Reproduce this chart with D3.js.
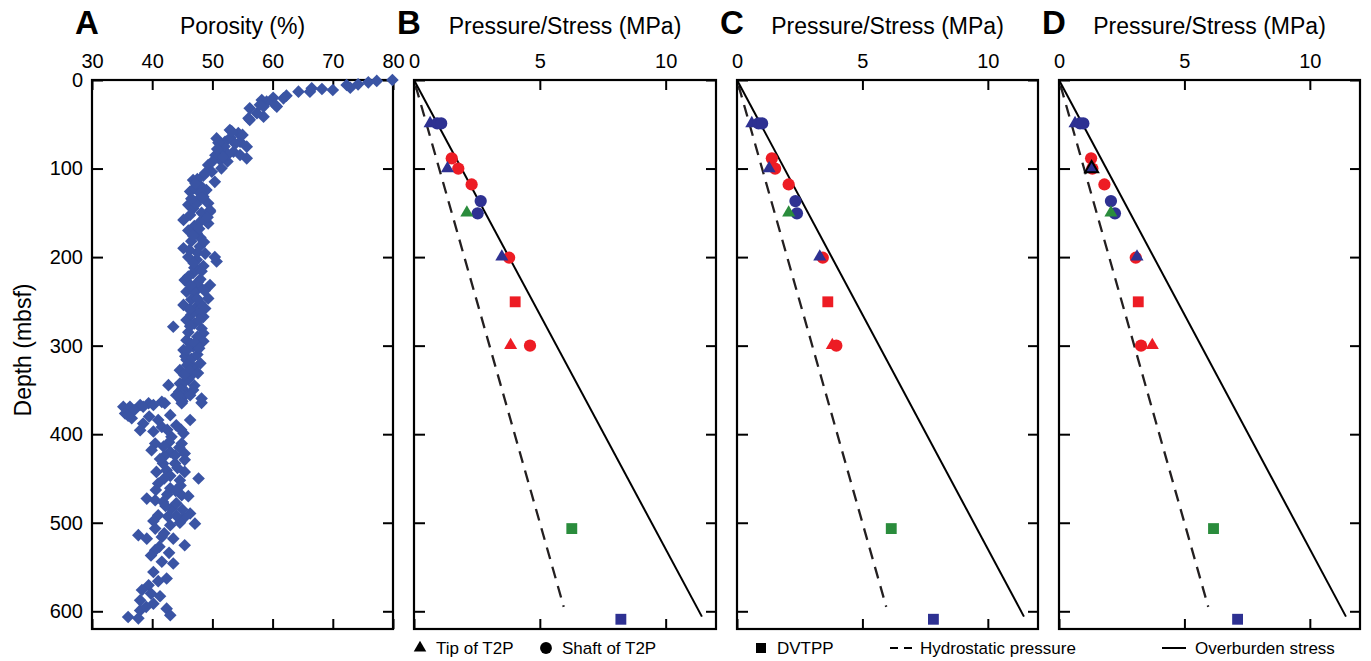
<!DOCTYPE html>
<html>
<head>
<meta charset="utf-8">
<script src="https://cdn.jsdelivr.net/npm/d3@7"></script>
<style>
  body { margin: 0; background: #fff; }
  svg text { font-family: "Liberation Sans", Arial, Helvetica, sans-serif; fill: #000; }
</style>
</head>
<body>
<svg id="chart" width="1371" height="661"></svg>
<script>
// Panel A: porosity (%) vs depth (mbsf)
const porosityData = [
  [79.9,0],[77.3,1],[75.9,2.6],[74.2,4.9],[72.9,8.7],[72.3,5.6],[70,11.3],[68.2,10.2],[66.5,9.4],[66.2,13.2],
  [64.3,13.2],[62.3,17.7],[61.8,20.7],[60.1,20],[60.4,28],[59,24.5],[58.2,22.6],[58.5,30],[58.5,41.4],[56.2,32],
  [56,43.3],[57.4,37.6],[56.2,45],[57.9,28],[60.7,30],
  [52.9,56.5],[50.7,66],[54.3,60],[54.6,69.7],[55.7,75.3],[55.7,88.5],[52.1,69.7],[53.5,81],[51.5,81],[51.3,90.4],
  [54.6,84.7],[49.3,96],[49.9,103.6],[51.5,99.8],[50.4,115],[46.8,113],[47.9,118.6],[46.3,126],[49,124.3],[48.5,131.8],
  [49.3,139.3],[46,141],[49.6,147],[52,75],[53,65],[50.5,85],[52.5,92],[50,92],[48.5,108],[47.5,112],
  [47,122],[48,128],[47.5,136],[46.8,145],[48.2,150],[47.3,140],
  [53.8,72],[52.6,84],[51,71],[55,62],[53.2,58],[51.8,87],[50.8,78],
  [46.3,152.5],[49.6,148.8],[49.3,162],[45.2,158],[47.4,173],[45.2,190],[47.9,188],[50.7,205],[50.4,200],[47.4,203],
  [46.8,218],[45.4,226],[49.6,231.6],[47.9,233.5],[45.7,239],[49.3,246.7],[45.2,254],[47.4,256],[48.5,267.5],[43.5,278.7],
  [45.7,271],[48.2,280.6],[48.5,286],[45.7,293.8],[45.2,305],[46.8,301],[45.7,316],[46.8,324],[44.6,327.7],[46.6,333],
  [42.7,344.6],[44.6,342.7],[45.7,354],[48.2,359.7],[41.6,363.5],[39.4,365],[38,367],[36.3,369],[35.2,369],[44.9,361.6],
  [47,165],[48,178],[46.5,182],[47.5,195],[48.5,210],[47,212],[46,222],[48,225],[47,240],[46.5,248],
  [48,252],[47.5,262],[46.5,265],[47,275],[46,285],[47.5,290],[46.5,298],[45.5,312],[46.5,315],[45.8,322],
  [46,338],[45,348],[44.5,352],[45.5,340],[44,356],[45,363],[47.5,310],[47,345],[48,320],[46,200],[48,160],[46,170],
  [48.8,105],[47.2,117],[48.3,133],[46.5,134],[49.2,155],[47.8,168],[46.8,176],[48.6,183],[46.2,192],[48.8,196],
  [46.9,207],[48.2,216],[47.6,228],[46.4,232],[48.7,238],[47.5,247],[46.2,259],[48.8,258],[47.8,271],[46.3,278],
  [48.5,295],[47.1,297],[45.8,305],[47.8,303],[46.2,328],[47.6,331],[45.3,333],[46.8,350],[44.6,358],[46.3,356],
  [35.5,376.6],[36.6,382],[38.5,369],[40.2,367],[42.1,365],[44.9,365],[48.2,364.6],[43,378.5],[46.3,384],[38.5,388],
  [38,395.5],[40.2,397],[41.6,391.8],[43.2,403],[45.2,399],[40.5,410.5],[39.9,418],[43,420],[44.9,410.5],[45.4,421.8],
  [41.8,433],[43.8,433],[45.4,429],[40.7,442.6],[42.4,440.7],[45.4,442.6],[47.7,450],[44.6,452],[41,455.7],[43,461],
  [44.9,469],[39.1,472.7],[40.5,474.6],[41.8,476.5],[43.2,484],[41,491.5],[46.3,489.6],[47.1,501],[45.2,495],[43,502.8],
  [40.5,506.6],[37.7,514],[39.1,518],[41.6,516],[45.4,525.4],[40.5,531],[41.2,527],[41.6,544],[43.5,546],[40.2,555.6],
  [42.4,563],[39.4,570.6],[38.3,576],[38,587.6],[40.2,591.4],[42.4,597],[38,599],[36,606.4],[37.7,608],[43,604.5],
  [44,390],[42.5,395],[44.5,415],[42,425],[44.2,438],[43,447],[42.5,468],[44,478],[45,485],[42.6,493],
  [44.6,500],[46,470],[37,373],[36,379],[39.5,380],
  [41,384],[44.8,395],[42.8,409],[41.9,414],[43.8,424],[41.3,428],[44.7,458],[42,450],[43.9,464],[40.6,463],
  [42.2,481],[44,492],[40.2,498],[42,512],[43.5,518],[39.8,537],[42.8,534],[41,566],[39.8,580],[41.3,583],[39,595]
]

// Panels B-D: measured pressures (MPa) at each depth
const markerDepth = [49, 49, 49, 88.5, 100, 100, 118, 136.7, 150.6, 150, 200.7, 199.6, 250.5, 299.5, 300, 506.6, 609]
const markerType  = ["tip","shaft","shaft","shaft","shaft","tip","shaft","shaft","shaft","tip","shaft","tip","dvtpp","tip","shaft","dvtpp","dvtpp"]
const markerGroup = ["blue","blue","blue","red","red","blue","red","blue","blue","green","red","blue","red","red","red","green","blue"]
const pressureB = [0.64, 0.92, 1.08, 1.5, 1.76, 1.33, 2.29, 2.65, 2.53, 2.1, 3.78, 3.49, 4.02, 3.84, 4.61, 6.27, 8.22]
const pressureC = [0.59, 0.86, 1.0, 1.39, 1.52, 1.28, 2.06, 2.33, 2.39, 2.06, 3.42, 3.3, 3.62, 3.8, 3.96, 6.15, 7.83]
const pressureD = [0.64, 0.84, 0.97, 1.28, 1.33, 1.3, 1.81, 2.07, 2.23, 2.07, 3.06, 3.11, 3.16, 3.72, 3.27, 6.16, 7.12]

// reference lines: [pressure, depth]
const hydrostatic = [[0, 0], [5.95, 595]]
const overburden = [[0, 0], [11.44, 606]]

const depthTicks = [0, 100, 200, 300, 400, 500, 600]
const porosityTicks = [30, 40, 50, 60, 70, 80]
const pressureTicks = [0, 5, 10]
const legendItems = ["Tip of T2P", "Shaft of T2P", "DVTPP", "Hydrostatic pressure", "Overburden stress"]

const svg = d3.select("#chart")
const plotTop = 80, plotBottom = 629
const y = d3.scaleLinear().domain([0, 620]).range([plotTop, plotBottom])

const groupColor = d3.scaleOrdinal()
  .domain(["blue", "red", "green"])
  .range(["#2e3192", "#ed1c24", "#2a8c3c"])

const symbolOf = { tip: d3.symbolTriangle, shaft: d3.symbolCircle, dvtpp: d3.symbolSquare }
const sizeOf = { tip: 74, shaft: 118, dvtpp: 118 }

function styleAxis(g) {
  g.select(".domain").remove()
  g.selectAll(".tick line").attr("stroke", "#000").attr("stroke-width", 2)
  g.selectAll(".tick text").style("font-size", "20px").attr("fill", "#000")
}

function drawFrame(x, ticksX, labelX, labelY) {
  const [l, r] = x.range()
  const g = svg.append("g")

  g.append("g").attr("transform", `translate(0,${plotTop})`)
    .call(d3.axisTop(x).tickValues(ticksX).tickSize(-10).tickPadding(12)
      .tickFormat(labelX ? d3.format("d") : ""))
    .call(styleAxis)

  g.append("g").attr("transform", `translate(0,${plotBottom})`)
    .call(d3.axisBottom(x).tickValues(ticksX).tickSize(-10).tickFormat(""))
    .call(styleAxis)

  g.append("g").attr("transform", `translate(${l},0)`)
    .call(d3.axisLeft(y).tickValues(depthTicks).tickSize(-11).tickPadding(9)
      .tickFormat(labelY ? d3.format("d") : ""))
    .call(styleAxis)

  g.append("g").attr("transform", `translate(${r},0)`)
    .call(d3.axisRight(y).tickValues(depthTicks).tickSize(-10).tickFormat(""))
    .call(styleAxis)

  g.append("rect")
    .attr("x", l).attr("y", plotTop)
    .attr("width", r - l).attr("height", plotBottom - plotTop)
    .attr("fill", "none").attr("stroke", "#000").attr("stroke-width", 2.2)
  return g
}

function panelTitle(x, letter, title) {
  const [l, r] = x.range()
  svg.append("text")
    .attr("x", l - 17).attr("y", 34)
    .style("font-size", "33px").style("font-weight", "bold")
    .text(letter)
  svg.append("text")
    .attr("x", (l + r) / 2).attr("y", 34)
    .attr("text-anchor", "middle")
    .style("font-size", "23px")
    .text(title)
}

// --- Panel A ---
const xA = d3.scaleLinear().domain([30, 80]).range([92, 393])
const gA = drawFrame(xA, porosityTicks, true, true)
panelTitle(xA, "A", "Porosity (%)")

gA.append("g").selectAll("path")
  .data(porosityData)
  .join("path")
  .attr("transform", d => `translate(${xA(d[0])},${y(d[1])}) rotate(45)`)
  .attr("d", d3.symbol().type(d3.symbolSquare).size(80))
  .attr("fill", "#3a54a4")

svg.append("text")
  .attr("transform", "translate(31,350) rotate(-90)")
  .attr("text-anchor", "middle")
  .style("font-size", "23px")
  .text("Depth (mbsf)")

// --- Panels B, C, D ---
const pressurePanels = [
  { letter: "B", range: [414, 716], values: pressureB },
  { letter: "C", range: [737, 1038], values: pressureC },
  { letter: "D", range: [1059, 1360], values: pressureD }
]

const line = x => d3.line().x(d => x(d[0])).y(d => y(d[1]))

pressurePanels.forEach(p => {
  const x = d3.scaleLinear().domain([0, 12]).range(p.range)
  const g = drawFrame(x, pressureTicks, true, false)
  panelTitle(x, p.letter, "Pressure/Stress (MPa)")

  g.append("path")
    .attr("d", line(x)(hydrostatic))
    .attr("fill", "none").attr("stroke", "#231f20")
    .attr("stroke-width", 2.3).attr("stroke-dasharray", "12,8")
    .attr("stroke-dashoffset", -6)

  g.append("path")
    .attr("d", line(x)(overburden))
    .attr("fill", "none").attr("stroke", "#000").attr("stroke-width", 2)

  const pts = markerDepth.map((d, i) => ({
    depth: d, p: p.values[i], type: markerType[i], group: markerGroup[i], i
  }))

  g.append("g").selectAll("path")
    .data(pts)
    .join("path")
    .attr("transform", d => `translate(${x(d.p)},${y(d.depth)})`)
    .attr("d", d => d3.symbol().type(symbolOf[d.type]).size(sizeOf[d.type])())
    .attr("fill", d => groupColor(d.group))
    // in D the shallow tip reading at 100 m is outlined
    .attr("stroke", d => (p.letter === "D" && d.i === 5) ? "#000" : "none")
    .attr("stroke-width", 2)
})

// --- Legend ---
const lg = svg.append("g").attr("transform", "translate(0,648)")
const legendX = [420, 546, 761, 890, 1162]
const textX = [436, 562, 777, 920, 1195]

lg.append("path").attr("transform", `translate(${legendX[0]},0)`)
  .attr("d", d3.symbol().type(d3.symbolTriangle).size(68)())
lg.append("path").attr("transform", `translate(${legendX[1]},0)`)
  .attr("d", d3.symbol().type(d3.symbolCircle).size(110)())
lg.append("path").attr("transform", `translate(${legendX[2]},0)`)
  .attr("d", d3.symbol().type(d3.symbolSquare).size(100)())
lg.append("line").attr("x1", legendX[3]).attr("x2", legendX[3] + 22)
  .attr("stroke", "#000").attr("stroke-width", 2).attr("stroke-dasharray", "8,6")
lg.append("line").attr("x1", legendX[4]).attr("x2", legendX[4] + 24)
  .attr("stroke", "#000").attr("stroke-width", 2)

lg.selectAll("text")
  .data(legendItems)
  .join("text")
  .attr("x", (d, i) => textX[i])
  .attr("y", 6)
  .style("font-size", "17px")
  .text(d => d)
</script>
</body>
</html>
